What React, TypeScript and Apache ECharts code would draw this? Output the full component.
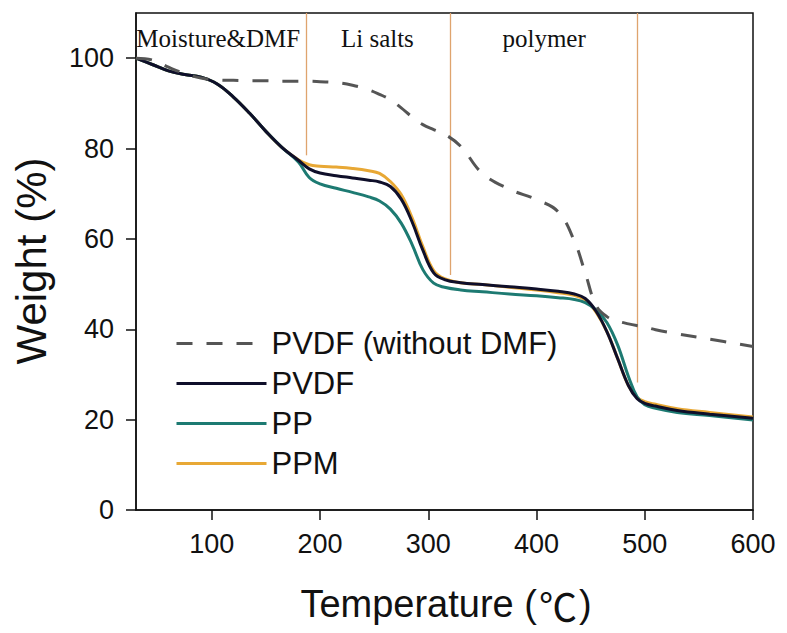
import React, { useEffect, useRef } from "react";
import * as echarts from "echarts";

const temperature = [30, 45, 60, 75, 90, 105, 120, 135, 150, 165, 180, 190, 200, 215, 230, 245, 255, 265, 275, 285, 295, 305, 315, 330, 350, 375, 400, 420, 435, 445, 455, 465, 475, 485, 493, 500, 510, 530, 560, 600];

const pvdfNoDmf = [100, 99.6, 98.0, 96.6, 95.6, 95.2, 95.1, 95.0, 95.0, 94.9, 94.9, 94.9, 94.8, 94.6, 94.0, 93.0, 92.0, 90.8, 89.0, 87.0, 85.3, 84.2, 83.2, 80.5, 74.5, 71.0, 68.7, 66.0, 59.5, 52.5, 45.3, 42.8, 41.8, 41.2, 40.8, 40.5, 39.9, 39.0, 37.8, 36.2];
const pvdf = [100, 98.6, 97.2, 96.4, 95.8, 94.3, 91.4, 87.8, 83.8, 80.2, 77.4, 75.5, 74.6, 74.0, 73.5, 73.0, 72.6, 71.6, 68.8, 63.8, 57.5, 52.5, 51.0, 50.3, 49.9, 49.4, 48.9, 48.4, 47.8, 46.8, 44.0, 39.5, 33.5, 27.5, 24.6, 23.6, 23.0, 22.0, 21.2, 20.3];
const pp = [100, 98.6, 97.2, 96.4, 95.8, 94.3, 91.4, 87.8, 83.8, 80.2, 77.0, 73.6, 72.2, 71.2, 70.3, 69.3, 68.4, 66.6, 63.5, 58.8, 53.2, 50.2, 49.3, 48.7, 48.3, 47.8, 47.4, 47.0, 46.6, 45.9, 44.3, 41.5, 36.5, 29.5, 25.0, 23.3, 22.5, 21.6, 20.9, 19.9];
const ppm = [100, 98.6, 97.2, 96.4, 95.8, 94.3, 91.4, 87.8, 83.8, 80.2, 77.5, 76.4, 76.1, 75.9, 75.6, 75.1, 74.5, 72.7, 69.8, 64.7, 58.3, 53.0, 51.2, 50.3, 49.9, 49.3, 48.7, 48.1, 47.5, 46.5, 43.8, 39.5, 33.5, 27.5, 24.9, 24.0, 23.4, 22.4, 21.6, 20.6];

const seriesNames = ["PVDF (without DMF)", "PVDF", "PP", "PPM"];
const xTicks = [100, 200, 300, 400, 500, 600];
const yTicks = [0, 20, 40, 60, 80, 100];

// stage dividers: temperature, lower end of the line (weight %)
const dividerTemps = [187, 320, 493];
const dividerEnds = [78.5, 52, 28.2];
const stageLabels = ["Moisture&DMF", "Li salts", "polymer"];
const stageLabelTemps = [106, 253, 407];

export default function App() {
  const ref = useRef<HTMLDivElement>(null);
  useEffect(() => {
    const chart = echarts.init(ref.current!, null, { renderer: "svg" });
    const pair = (ys: number[]) => temperature.map((t, i) => [t, ys[i]]);
    const colors = ["#555555", "#0f0f2a", "#1d7a72", "#e8a835"];
    const datasets = [pvdfNoDmf, pvdf, pp, ppm];
    const series: any[] = datasets.map((ys, i) => ({
      name: seriesNames[i],
      type: "line",
      data: pair(ys),
      smooth: 0.4,
      symbol: "none",
      z: 10 - i,
      lineStyle: {
        color: colors[i],
        width: 3,
        type: i === 0 ? [16, 14] : "solid",
      },
      itemStyle: { color: colors[i] },
    }));
    series[0].markLine = {
      silent: true,
      symbol: ["none", "none"],
      label: { show: false },
      lineStyle: { color: "#dfa46e", width: 1.3, type: "solid" },
      data: dividerTemps.map((t, i) => [
        { coord: [t, 110] },
        { coord: [t, dividerEnds[i]] },
      ]),
    };
    series[0].markPoint = {
      silent: true,
      symbol: "circle",
      symbolSize: 1,
      itemStyle: { color: "rgba(0,0,0,0)" },
      data: stageLabels.map((s, i) => ({
        coord: [stageLabelTemps[i], 104.3],
        value: s,
        label: {
          show: true,
          position: "inside",
          formatter: s,
          fontFamily: "Liberation Serif",
          fontSize: 25,
          color: "#111",
        },
      })),
    };
    chart.setOption({
      animation: false,
      grid: {
        left: 136,
        right: 34,
        top: 13,
        bottom: 123,
        show: true,
        borderColor: "#111",
        borderWidth: 1.5,
      },
      legend: {
        left: 170,
        top: 323,
        orient: "vertical",
        itemWidth: 90,
        itemHeight: 14,
        itemGap: 9,
        itemStyle: { opacity: 0 },
        lineStyle: { width: 3 },
        textStyle: { fontFamily: "Liberation Sans", fontSize: 31, color: "#111" },
        data: seriesNames,
      },
      xAxis: {
        type: "value",
        min: 30,
        max: 600,
        axisLine: { lineStyle: { color: "#111", width: 1.5 } },
        axisTick: { length: 10, lineStyle: { color: "#111", width: 1.5 }, customValues: xTicks },
        axisLabel: {
          customValues: xTicks,
          fontFamily: "Liberation Sans",
          fontSize: 27,
          color: "#111",
          margin: 20,
        },
        splitLine: { show: false },
      },
      yAxis: {
        type: "value",
        min: 0,
        max: 110,
        axisLine: { show: true, lineStyle: { color: "#111", width: 1.5 } },
        axisTick: { show: true, length: 10, lineStyle: { color: "#111", width: 1.5 }, customValues: yTicks },
        axisLabel: {
          customValues: yTicks,
          fontFamily: "Liberation Sans",
          fontSize: 27,
          color: "#111",
          margin: 22,
        },
        splitLine: { show: false },
      },
      graphic: [
        {
          type: "text",
          x: 446,
          y: 604,
          style: {
            text: "Temperature ({c|℃})",
            fontFamily: "Liberation Sans",
            fontSize: 38,
            fill: "#111",
            align: "center",
            verticalAlign: "middle",
            rich: {
              c: {
                fontFamily: "Noto Sans CJK SC",
                fontSize: 38,
                fill: "#111",
                padding: [0, 2, 0, 2],
              },
            },
          },
        },
        {
          type: "text",
          x: 31,
          y: 261,
          rotation: Math.PI / 2,
          style: {
            text: "Weight (%)",
            fontFamily: "Liberation Sans",
            fontSize: 42,
            fill: "#111",
            align: "center",
            verticalAlign: "middle",
          },
        },
      ],
      series,
    });
    return () => chart.dispose();
  }, []);
  return (
    <div
      ref={ref}
      style={{ position: "fixed", left: 0, top: 0, width: 787, height: 633, background: "#fff" }}
    />
  );
}
